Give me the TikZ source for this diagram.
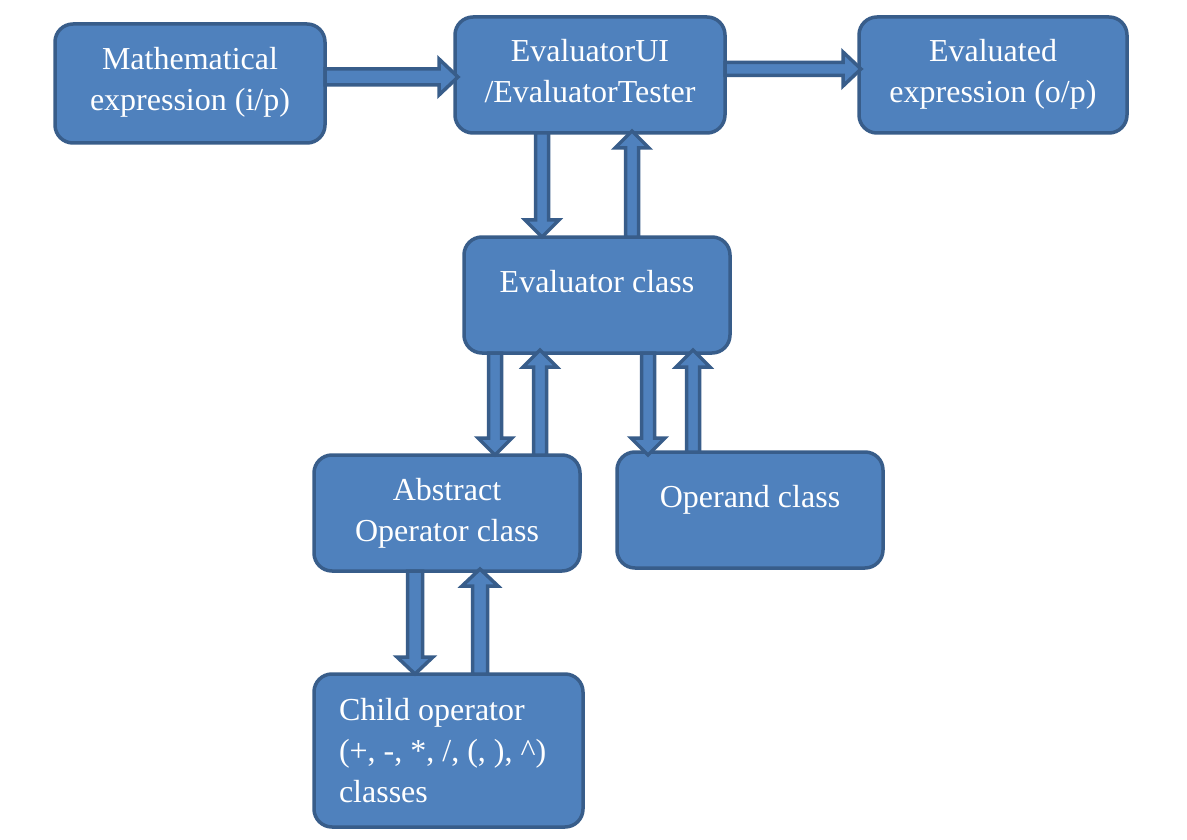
\documentclass[tikz,border=0pt]{standalone}
\usepackage{fontspec}
\setmainfont{Liberation Serif}
\usetikzlibrary{calc}
\definecolor{boxfill}{HTML}{4F81BD}
\definecolor{boxline}{HTML}{385D8A}
\tikzset{
  box/.style={draw=boxline, fill=boxfill, line width=3.5pt, rounded corners=18pt,
    inner sep=0pt, outer sep=0pt, rectangle},
  lbl/.style={text=white, inner sep=0pt, outer sep=0pt,
    font=\fontsize{32}{41}\selectfont},
  arrowshape/.style={draw=boxline, fill=boxfill, line width=3.5pt, line join=miter}
}
% block arrow: #1 start, #2 tip, #3 shaft half width, #4 head half width, #5 head length
\newcommand\barrow[5]{%
  \path (#1) coordinate (ba-s) (#2) coordinate (ba-e);
  \path ($(ba-e)!#5!(ba-s)$) coordinate (ba-h);
  \draw[arrowshape] ($(ba-s)!#3!90:(ba-e)$) -- ($(ba-h)!#3!90:(ba-e)$)
    -- ($(ba-h)!#4!90:(ba-e)$) -- (ba-e) -- ($(ba-h)!#4!-90:(ba-e)$)
    -- ($(ba-h)!#3!-90:(ba-e)$) -- ($(ba-s)!#3!-90:(ba-e)$) -- cycle;}
\begin{document}
\begin{tikzpicture}[x=1pt,y=-1pt]
\useasboundingbox (0,0) rectangle (1187,840);
\fill[white] (0,0) rectangle (1187,840);
% boxes
\node[box, minimum width=270pt, minimum height=119pt] (math) at (190,83.5) {};
\node[box, minimum width=270pt, minimum height=116pt] (ui) at (590,75) {};
\node[box, minimum width=268pt, minimum height=116pt] (out) at (993,75) {};
\node[box, minimum width=266pt, minimum height=116pt] (ev) at (597,295) {};
\node[box, minimum width=266pt, minimum height=116pt] (abs) at (447,513) {};
\node[box, minimum width=266pt, minimum height=116pt] (op) at (750,510) {};
\node[box, minimum width=269pt, minimum height=153pt] (child) at (448.5,750.5) {};
% texts
\node[lbl, anchor=base] (mathT) at (190,70) {\parbox[t]{300pt}{\centering Mathematical\\expression (i/p)}};
\node[lbl, anchor=base] (uiT) at (590,62) {\parbox[t]{300pt}{\centering EvaluatorUI\\/EvaluatorTester}};
\node[lbl, anchor=base] (outT) at (993,62) {\parbox[t]{300pt}{\centering Evaluated\\expression (o/p)}};
\node[lbl, anchor=base] (evT) at (597,292) {Evaluator class};
\node[lbl, anchor=base] (absT) at (447,500) {\parbox[t]{300pt}{\centering Abstract\\Operator class}};
\node[lbl, anchor=base] (opT) at (750,507) {Operand class};
\node[lbl, anchor=base west] (childT) at (339,720) {\parbox[t]{260pt}{\raggedright Child operator\\(+, -, *, /, (, ), \textasciicircum)\\classes}};
% arrows
\barrow{math.east |- 0,77}{$(ui.west |- 0,77)+(3,0)$}{8pt}{18pt}{19pt}
\barrow{ui.east |- 0,69}{$(out.west |- 0,69)+(2,0)$}{6.5pt}{17pt}{18pt}
\barrow{542,0 |- ui.south}{542,0 |- ev.north}{6.5pt}{17pt}{17pt}
\barrow{632,0 |- ev.north}{$(632,0 |- ui.south)+(0,-2)$}{6.5pt}{17pt}{17pt}
\barrow{495,0 |- ev.south}{495,0 |- abs.north}{6.5pt}{17pt}{17pt}
\barrow{540,0 |- abs.north}{$(540,0 |- ev.south)+(0,-3)$}{6.5pt}{17pt}{17pt}
\barrow{648,0 |- ev.south}{$(648,0 |- op.north)+(0,3)$}{6.5pt}{17pt}{17pt}
\barrow{693,0 |- op.north}{$(693,0 |- ev.south)+(0,-3)$}{6.5pt}{17pt}{17pt}
\barrow{415,0 |- abs.south}{415,0 |- child.north}{7.5pt}{18pt}{17pt}
\barrow{480,0 |- child.north}{$(480,0 |- abs.south)+(0,-2)$}{7.5pt}{18pt}{17pt}
\end{tikzpicture}
\end{document}
